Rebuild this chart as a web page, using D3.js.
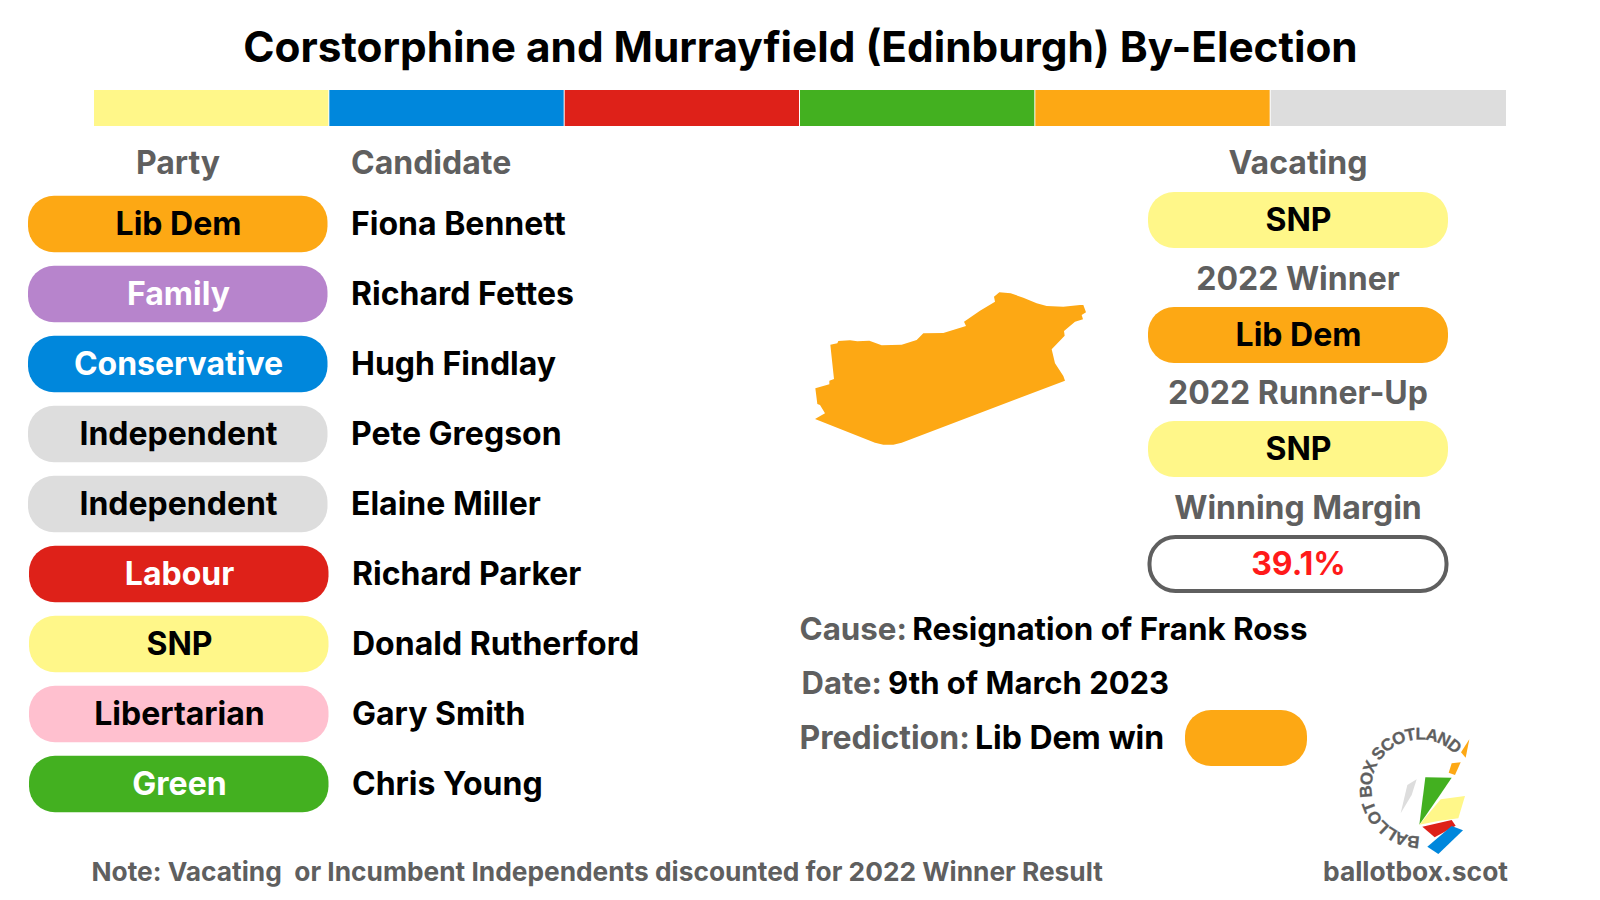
<!DOCTYPE html>
<html>
    <head>
        <title>Corstorphine and Murrayfield (Edinburgh) By-Election</title>
        <script src="https://cdn.jsdelivr.net/npm/d3@7"></script>
        <style>
            html, body { margin: 0; padding: 0; background: #fff; }
            svg { display: block; }
            text { font-family: Inter, "Noto Sans", sans-serif; font-weight: 700; }
        </style>
    </head>
    <body>
        <div id="visuals"></div>
    </body>
    <script>
        const partyColours = {
            'SNP': '#FFF789',
            'Conservative': '#0087DC',
            'Labour': '#DE2119',
            'Green': '#43B020',
            'Lib Dem': '#FDA814',
            'Independent': '#DDDDDD',
            'Family': '#B784CC',
            'Libertarian': '#FFC0CF'
        };
        const whiteLabels = ['Family', 'Conservative', 'Labour', 'Green'];
        const stripParties = ['SNP', 'Conservative', 'Labour', 'Green', 'Lib Dem', 'Independent'];

        const parties = ['Lib Dem', 'Family', 'Conservative', 'Independent', 'Independent', 'Labour', 'SNP', 'Libertarian', 'Green'];
        const candidates = ['Fiona Bennett', 'Richard Fettes', 'Hugh Findlay', 'Pete Gregson', 'Elaine Miller', 'Richard Parker', 'Donald Rutherford', 'Gary Smith', 'Chris Young'];

        const sideLabels = ['Vacating', '2022 Winner', '2022 Runner-Up', 'Winning Margin'];
        const sideValues = ['SNP', 'Lib Dem', 'SNP', '39.1%'];

        const details = [
            ['Cause:', 'Resignation of Frank Ross'],
            ['Date:', '9th of March 2023'],
            ['Prediction:', 'Lib Dem win']
        ];

        // outlines, in picture-sized units
        const wardOutline = [[105,447],[135,430],[120,405],[112,402],[106,355],[148,343],[148,332],[162,327],[151,224],[172,220],[175,213],[210,211],[232,214],[268,212],[305,226],[365,224],[410,210],[430,190],[490,189],[558,168],[552,155],[600,122],[645,95],[642,80],[658,67],[692,70],[730,83],[770,100],[800,108],[850,110],[900,105],[910,105],[918,127],[905,135],[909,148],[885,155],[852,183],[854,197],[815,238],[825,280],[850,318],[855,332],[365,518],[340,524],[310,524],[285,518]];
        const logoShapes = [
            ['Lib Dem', [[358,58],[333,97],[347,113]]],
            ['Lib Dem', [[305,130],[332,127],[315,165],[296,158]]],
            ['Independent', [[200,178],[172,195],[152,280],[185,225]]],
            ['Green', [[226,172],[305,173],[270,225],[208,314]]],
            ['SNP', [[272,238],[345,228],[325,295],[265,303],[208,314]]],
            ['Labour', [[217,320],[305,300],[317,317],[254,352]]],
            ['Conservative', [[305,318],[339,331],[265,402],[232,380]]]
        ];

        const grey = '#5F5F5F';
        const bodySize = 32;
        const svg = d3.select('#visuals').append('svg').attr('width', 1600).attr('height', 900);

        const label = (x, y, str, size, fill, anchor) => svg.append('text')
            .attr('x', x).attr('y', y).attr('dy', '0.355em')
            .attr('text-anchor', anchor || 'start')
            .attr('font-size', size)
            .attr('fill', fill)
            .text(str);

        const pill = (x, y, w, h) => svg.append('rect')
            .attr('x', x).attr('y', y - h / 2)
            .attr('width', w).attr('height', h)
            .attr('rx', 26).attr('ry', 26);

        label(800.5, 47, 'Corstorphine and Murrayfield (Edinburgh) By-Election', 42.3, '#000', 'middle');

        // colour strip
        const stripX = d3.scaleBand().domain(stripParties).range([94, 1506]);
        svg.selectAll('rect.strip')
            .data(stripParties)
            .enter()
            .append('rect')
            .attr('class', 'strip')
            .attr('x', (d) => stripX(d))
            .attr('y', 90)
            .attr('width', (d, i) => stripX.bandwidth() - (i < 5 ? 1 : 0))
            .attr('height', 36)
            .attr('fill', (d) => partyColours[d]);

        label(178, 163, 'Party', bodySize, grey, 'middle');
        label(351, 163, 'Candidate', bodySize, grey);

        // candidate rows
        const rowY = d3.scalePoint().domain(d3.range(parties.length)).range([224, 784]);
        const shift = (i) => (i >= 5 ? 1 : 0);
        parties.forEach((p, i) => {
            pill(28 + shift(i), rowY(i), 299.5, 56.5).attr('fill', partyColours[p]);
            label(178.5 + shift(i), rowY(i), p, bodySize, whiteLabels.includes(p) ? '#fff' : '#000', 'middle');
            label(351 + shift(i), rowY(i), candidates[i], bodySize, '#000');
        });

        // ward map
        const mapX = d3.scaleLinear().domain([0, 300]).range([780, 880]);
        const mapY = d3.scaleLinear().domain([0, 300]).range([270, 370]);
        svg.append('path')
            .attr('d', d3.line().x((d) => mapX(d[0])).y((d) => mapY(d[1]))(wardOutline) + 'Z')
            .attr('fill', partyColours['Lib Dem']);

        // right column
        const sideLabelY = d3.scaleOrdinal().domain(sideLabels).range([163, 279, 393, 508]);
        const sidePillY = d3.scaleOrdinal().domain(sideLabels).range([220, 335, 449, 564]);
        sideLabels.forEach((s, i) => {
            label(1298, sideLabelY(s), s, bodySize, grey, 'middle');
            const isMargin = i === sideLabels.length - 1;
            if (isMargin) {
                pill(1149.5, sidePillY(s), 297, 54).attr('fill', '#fff').attr('stroke', grey).attr('stroke-width', 4);
            } else {
                pill(1148, sidePillY(s), 300, 56).attr('fill', partyColours[sideValues[i]]);
            }
            label(1298.5, sidePillY(s), sideValues[i], bodySize, isMargin ? '#FF1A1A' : '#000', 'middle');
        });

        // cause / date / prediction
        const detailX = [799.5, 801.5, 799.5];
        const detailSize = [31.3, 31, 32];
        const detailGap = [-2, -1, -2.5];
        const detailY = d3.scalePoint().domain(d3.range(details.length)).range([629, 737.5]);
        details.forEach((d, i) => {
            const t = svg.append('text')
                .attr('x', detailX[i]).attr('y', detailY(i)).attr('dy', '0.355em')
                .attr('font-size', detailSize[i]);
            t.append('tspan').attr('fill', grey).text(d[0] + ' ');
            t.append('tspan').attr('dx', detailGap[i]).attr('fill', '#000').text(d[1]);
        });
        pill(1185, 738, 122, 56).attr('fill', partyColours['Lib Dem']);

        // footer
        label(91.5, 872, 'Note: Vacating  or Incumbent Independents discounted for 2022 Winner Result', 26.3, grey).style('white-space', 'pre');
        label(1508, 872, 'ballotbox.scot', 26.4, grey, 'end');

        // logo
        const logoX = d3.scaleLinear().domain([0, 140]).range([1350, 1396.67]);
        const logoY = d3.scaleLinear().domain([0, 150]).range([720, 770]);
        svg.selectAll('path.logo')
            .data(logoShapes)
            .enter()
            .append('path')
            .attr('class', 'logo')
            .attr('d', (d) => d3.line().x((p) => logoX(p[0])).y((p) => logoY(p[1]))(d[1]) + 'Z')
            .attr('fill', (d) => partyColours[d[0]]);

        const arcPath = d3.path();
        arcPath.arc(1420, 788, 48.5, Math.PI * 0.5, Math.PI * 2.2, false);
        svg.append('path').attr('id', 'logoArc').attr('d', arcPath.toString()).attr('fill', 'none');
        svg.append('text')
            .attr('font-size', 17)
            .attr('fill', grey)
            .attr('stroke', grey)
            .attr('stroke-width', 0.3)
            .style('letter-spacing', '-1px')
            .style('font-family', '"Liberation Sans", Arial, sans-serif')
            .append('textPath')
            .attr('href', '#logoArc')
            .text('BALLOT BOX SCOTLAND');
    </script>
</html>
